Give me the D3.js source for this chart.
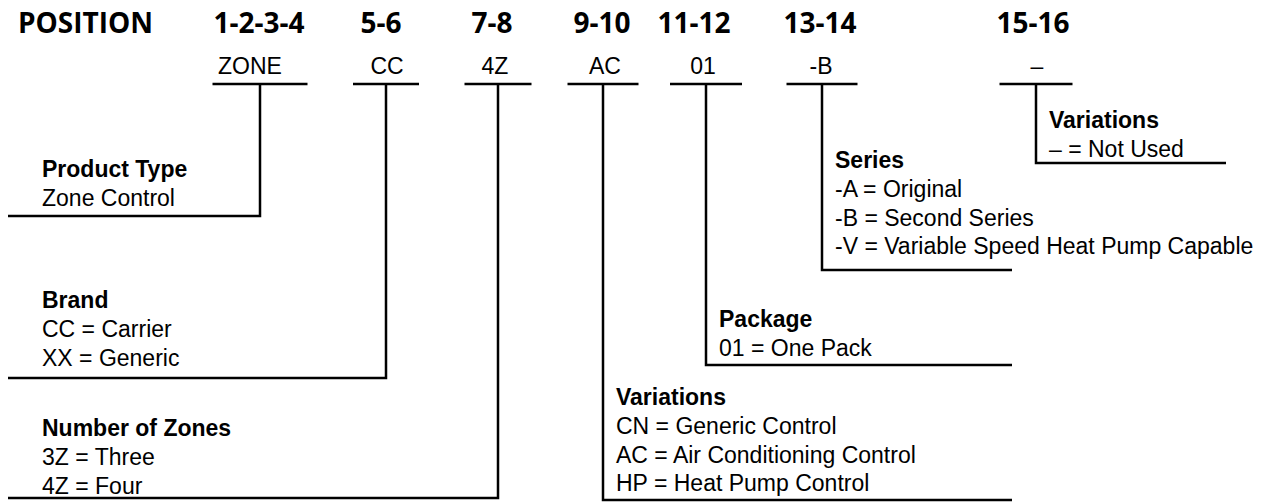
<!DOCTYPE html>
<html>
<head>
<meta charset="utf-8">
<script src="https://cdn.jsdelivr.net/npm/d3@7"></script>
<style>
  html, body { margin: 0; padding: 0; background: #fff; }
  svg { display: block; }
</style>
</head>
<body>
<svg id="chart" width="1282" height="502"></svg>
<script>
// ---- data ----
const headerLabel = "POSITION";
const positions = ["1-2-3-4", "5-6", "7-8", "9-10", "11-12", "13-14", "15-16"];
const codes = ["ZONE", "CC", "4Z", "AC", "01", "-B", "\u2013"];
const titles = ["Product Type", "Brand", "Number of Zones", "Variations", "Package", "Series", "Variations"];
const descriptions = [
  ["Zone Control"],
  ["CC = Carrier", "XX = Generic"],
  ["3Z = Three", "4Z = Four"],
  ["CN = Generic Control", "AC = Air Conditioning Control", "HP = Heat Pump Control"],
  ["01 = One Pack"],
  ["-A = Original", "-B = Second Series", "-V = Variable Speed Heat Pump Capable"],
  ["\u2013 = Not Used"]
];

// ---- layout (positions kept separate from data) ----
const xCenter = d3.scaleOrdinal().domain(positions).range([260, 386, 498, 603, 706, 822, 1036]);
const headerDx = d3.scaleOrdinal().domain(positions).range([-1, -5, -6, -1, -12, -2, -3]);
const codeDx = d3.scaleOrdinal().domain(positions).range([-10, 1, -3, 2, -3, -1, 1]);
const underlineW = d3.scaleOrdinal().domain(positions).range([95, 66, 67, 71, 72, 71, 73]);
const lineY = d3.scaleOrdinal().domain(positions).range([216, 378, 498, 500, 365, 270, 163]);
const titleY = d3.scaleOrdinal().domain(positions).range([177, 308, 436, 405, 327, 168, 128]);
const side = d3.scaleOrdinal().domain(positions).range(["left", "left", "left", "right", "right", "right", "right"]);
const rightEnd = d3.scaleOrdinal().domain(positions).range([0, 0, 0, 1012, 1012, 1012, 1226]);

const leftEdge = 8, leftText = 42, rightTextPad = 13;
const underlineY = 84, headerY = 33, codeY = 74, lineH = 28.8;
const bodyFont = "'Liberation Sans', Arial, Helvetica, sans-serif";
const headFont = "'Open Sans', sans-serif";

const svg = d3.select("#chart");
svg.append("rect").attr("width", 1282).attr("height", 502).attr("fill", "#fff");

// header
svg.append("text")
  .attr("x", 18).attr("y", headerY)
  .attr("font-family", headFont).attr("font-weight", 700).attr("font-size", 28)
  .attr("fill", "#000").text(headerLabel);

const seg = svg.selectAll("g.seg")
  .data(positions.map((p, i) => ({ p, code: codes[i], title: titles[i], desc: descriptions[i] })))
  .join("g").attr("class", "seg");

seg.append("text")
  .attr("x", d => xCenter(d.p) + headerDx(d.p)).attr("y", headerY)
  .attr("text-anchor", "middle")
  .attr("font-family", headFont).attr("font-weight", 700).attr("font-size", 28)
  .attr("fill", "#000").text(d => d.p);

seg.append("text")
  .attr("x", d => xCenter(d.p) + codeDx(d.p)).attr("y", codeY)
  .attr("text-anchor", "middle")
  .attr("font-family", bodyFont).attr("font-size", 23)
  .attr("fill", "#000").text(d => d.code);

seg.append("line")
  .attr("x1", d => xCenter(d.p) - underlineW(d.p) / 2)
  .attr("x2", d => xCenter(d.p) + underlineW(d.p) / 2)
  .attr("y1", underlineY).attr("y2", underlineY)
  .attr("stroke", "#000").attr("stroke-width", 2.5);

seg.append("path")
  .attr("d", d => {
    const x = xCenter(d.p), y = lineY(d.p);
    const p = d3.path();
    p.moveTo(x, underlineY);
    p.lineTo(x, y);
    p.lineTo(side(d.p) === "left" ? leftEdge : rightEnd(d.p), y);
    return p.toString();
  })
  .attr("fill", "none").attr("stroke", "#000").attr("stroke-width", 2.5)
  .attr("stroke-linejoin", "miter");

const blockX = d => side(d.p) === "left" ? leftText : xCenter(d.p) + rightTextPad;

seg.append("text")
  .attr("x", blockX).attr("y", d => titleY(d.p))
  .attr("font-family", bodyFont).attr("font-weight", 700).attr("font-size", 23)
  .attr("fill", "#000").text(d => d.title);

seg.each(function(d) {
  d3.select(this).selectAll("text.desc")
    .data(d.desc)
    .join("text").attr("class", "desc")
    .attr("x", blockX(d))
    .attr("y", (t, i) => titleY(d.p) + lineH * (i + 1))
    .attr("font-family", bodyFont).attr("font-size", 23)
    .attr("fill", "#000").text(t => t);
});
</script>
</body>
</html>
